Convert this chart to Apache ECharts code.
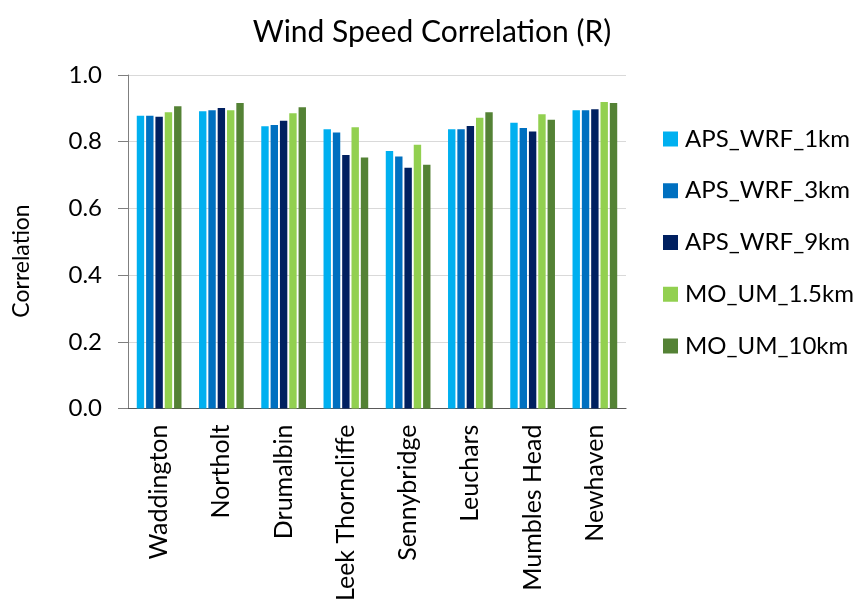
<!DOCTYPE html>
<html>
<head>
<meta charset="utf-8">
<script src="https://cdn.jsdelivr.net/npm/echarts@6/dist/echarts.min.js"></script>
<style>html,body{margin:0;padding:0;background:#fff}#c{width:861px;height:604px}</style>
</head>
<body>
<div id="c"></div>
<script>
const categories = ['Waddington','Northolt','Drumalbin','Leek Thorncliffe','Sennybridge','Leuchars','Mumbles Head','Newhaven'];
const seriesNames = ['APS_WRF_1km','APS_WRF_3km','APS_WRF_9km','MO_UM_1.5km','MO_UM_10km'];
const aps1km  = [0.878,0.891,0.846,0.837,0.772,0.837,0.857,0.894];
const aps3km  = [0.878,0.894,0.850,0.828,0.756,0.837,0.841,0.894];
const aps9km  = [0.875,0.901,0.863,0.760,0.722,0.847,0.831,0.897];
const mo15km  = [0.888,0.894,0.885,0.843,0.791,0.872,0.882,0.919];
const mo10km  = [0.906,0.916,0.903,0.753,0.731,0.888,0.866,0.916];
const yTicks = [0.0,0.2,0.4,0.6,0.8,1.0];
const colors = ['#00B0F0','#0070C0','#002060','#92D050','#548235'];
const allValues = [aps1km,aps3km,aps9km,mo15km,mo10km];

const FONT = 'Lato';
const chart = echarts.init(document.getElementById('c'), null, {renderer:'canvas'});
chart.setOption({
  animation:false,
  textStyle:{fontFamily:FONT,color:'#000'},
  title:{text:'Wind Speed Correlation (R)',left:427,top:12,textAlign:'center',
    textStyle:{fontFamily:FONT,fontSize:30,fontWeight:'normal',color:'#000'}},
  legend:{orient:'vertical',left:658,top:122,itemWidth:15,itemHeight:15,itemGap:27.75,
    icon:'rect',data:seriesNames,
    textStyle:{fontFamily:FONT,fontSize:24,color:'#000',lineHeight:24,padding:[0,0,0,2]}},
  grid:{left:128,top:75,right:235,bottom:193,containLabel:false},
  xAxis:{type:'category',data:categories,
    axisLine:{lineStyle:{color:'#595959',width:1.2}},
    axisTick:{show:false},
    axisLabel:{rotate:90,fontFamily:FONT,fontSize:25,color:'#000',margin:16,interval:0}},
  yAxis:{type:'value',min:0,max:1,interval:0.2,
    axisLine:{show:true,lineStyle:{color:'#7f7f7f'}},
    axisTick:{show:true,length:10,inside:false,lineStyle:{color:'#7f7f7f'}},
    splitLine:{lineStyle:{color:'#d9d9d9',width:1}},
    axisLabel:{fontFamily:FONT,fontSize:24,color:'#000',margin:26,
      formatter:v=>yTicks.reduce((a,t)=>Math.abs(t-v)<1e-9?t.toFixed(1):a, v.toFixed(1))}},
  graphic:[{type:'text',x:22,y:261,rotation:Math.PI/2,
    style:{text:'Correlation',font:'23px '+FONT,fill:'#000',align:'center',verticalAlign:'middle'}}],
  series:seriesNames.map((n,i)=>({name:n,type:'bar',data:allValues[i],barWidth:7.4,barGap:'26%',
    itemStyle:{color:colors[i]}}))
});
</script>
</body>
</html>
